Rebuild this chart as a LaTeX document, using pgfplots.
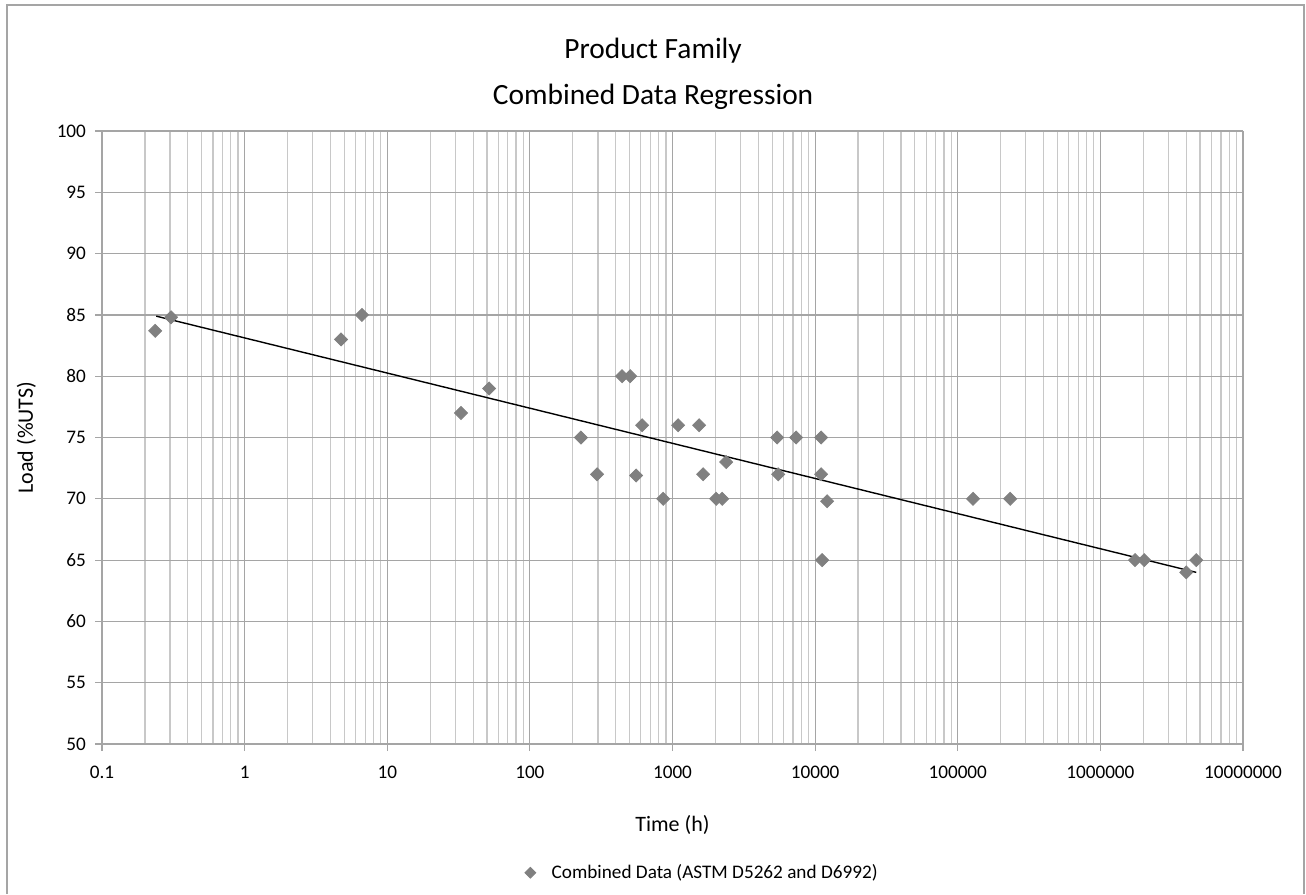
\documentclass[border=0pt]{standalone}
\usepackage{pgfplots}
\pgfplotsset{compat=1.18}
\usepackage{fontspec}
\setmainfont{Carlito}
\definecolor{mk}{RGB}{128,128,128}
\definecolor{gmaj}{RGB}{165,165,165}
\definecolor{gmin}{RGB}{200,200,200}
\begin{document}
\begin{tikzpicture}
\begin{axis}[
  scale only axis,
  width=570.5pt, height=306.5pt,
  at={(0,0)}, anchor=south west,
  xmode=log, log basis x=10,
  xmin=0.1, xmax=1e7, ymin=50, ymax=100,
  xtick={0.1,1,10,100,1000,10000,100000,1000000,10000000},
  xticklabels={0.1,1,10,100,1000,10000,100000,1000000,10000000},
  ytick={50,55,...,100},
  minor xtick={0.2,0.3,0.4,0.5,0.6,0.7,0.8,0.9,2,3,4,5,6,7,8,9,20,30,40,50,60,70,80,90,200,300,400,500,600,700,800,900,2000,3000,4000,5000,6000,7000,8000,9000,20000,30000,40000,50000,60000,70000,80000,90000,200000,300000,400000,500000,600000,700000,800000,900000,2000000,3000000,4000000,5000000,6000000,7000000,8000000,9000000},
  grid=both,
  major grid style={draw=gmaj, line width=0.6pt},
  minor grid style={draw=gmin, line width=0.6pt},
  axis line style={draw=gmaj, line width=0.6pt},
  axis x line*=bottom, axis y line*=left,
  tick style={draw=gmaj, line width=0.6pt},
  major tick length=3.5pt, minor tick length=0pt,
  tick align=outside,
  tick label style={font=\fontsize{9.6}{11}\selectfont, text=black},
  yticklabel style={/pgf/number format/assume math mode=true, xshift=-1pt},
  xticklabel style={yshift=-4pt},
  xlabel={Time (h)}, ylabel={Load (\%UTS)},
  label style={font=\fontsize{11}{13}\selectfont},
  xlabel style={yshift=-11.5pt},
  ylabel style={yshift=3.5pt},
  legend style={at={(0.527,-0.21)}, anchor=center, draw=none, font=\fontsize{9.6}{11}\selectfont, legend cell align=left},
  legend image code/.code={\draw[mk,fill=mk] plot[mark=square*, mark size=1.9pt, mark options={rotate=45}] coordinates {(0.1cm,0cm)};},
  legend style={/tikz/every even column/.append style={column sep=0pt}, nodes={inner sep=2pt}},
  clip=false,
]
\addplot[only marks, mark=square*, mark size=2.3pt, mark options={rotate=45, fill=mk, draw=mk}] coordinates {
(0.236,83.7) (0.305,84.8) (4.74,83.0) (6.65,85.0) (32.9,77.0) (51.8,79.0)
(228,75.0) (296,72.0) (443,80.0) (505,80.0) (556,71.9) (612,76.0)
(860,70.0) (1095,76.0) (1537,76.0) (1640,72.0) (2024,70.0) (2229,70.0)
(2378,73.0) (5415,75.0) (5510,72.0) (7360,75.0) (11020,75.0) (11020,72.0)
(12140,69.8) (11200,65.0) (128000,70.0) (233000,70.0) (1750000,65.0)
(2030000,65.0) (4000000,64.0) (4700000,65.0)
};
\addlegendentry{\hspace{6pt}Combined Data (ASTM D5262 and D6992)}
\addplot[black, line width=0.7pt, forget plot] coordinates {(0.24,84.9) (4.7e6,64.0)};
\node[font=\fontsize{14.7}{17}\selectfont] at (rel axis cs:0.483,1.131) {Product Family};
\node[font=\fontsize{14.7}{17}\selectfont] at (rel axis cs:0.483,1.056) {Combined Data Regression};
\end{axis}
\draw[gmaj, line width=0.6pt] (-47.5pt,-75pt) -- (-47.5pt,369.5pt) -- (601pt,369.5pt) -- (601pt,-75pt);
\useasboundingbox (-51pt,-73pt) rectangle (602pt,372pt);
\end{tikzpicture}
\end{document}
